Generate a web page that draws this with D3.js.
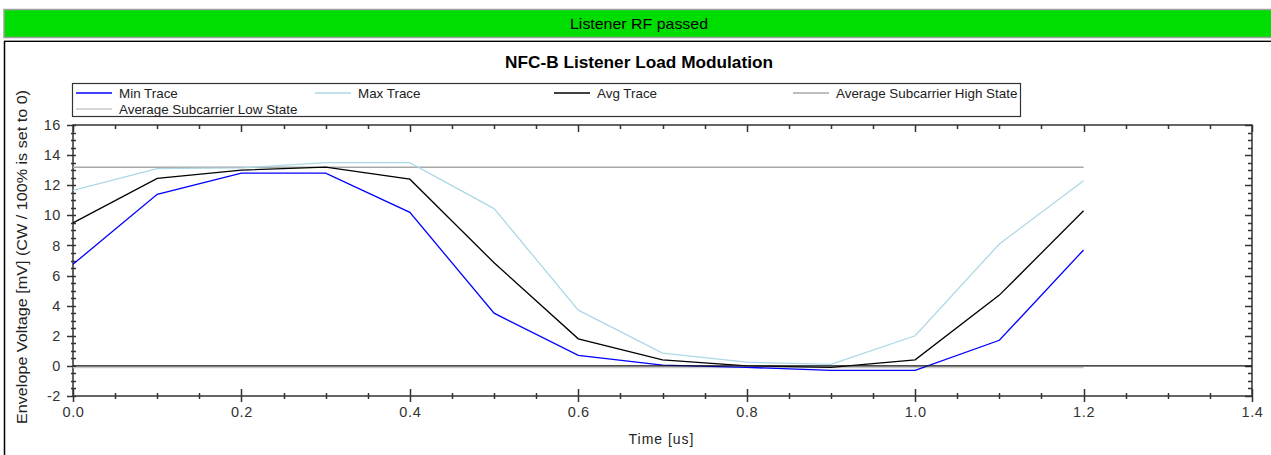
<!DOCTYPE html>
<html><head><meta charset="utf-8">
<script src="https://cdn.jsdelivr.net/npm/d3@7"></script>
<style>
html,body{margin:0;padding:0;background:#fff;}
svg{display:block;font-family:"Liberation Sans",Arial,sans-serif;}
</style></head>
<body>
<svg id="chart" width="1271" height="455"></svg>
<script>
// ---- data ----
const bannerText = "Listener RF passed";
const chartTitle = "NFC-B Listener Load Modulation";
const xTitle = "Time [us]";
const yTitle = "Envelope Voltage [mV] (CW / 100% is set to 0)";
const times    = [0.0, 0.1, 0.2, 0.3, 0.4, 0.5, 0.6, 0.7, 0.8, 0.9, 1.0, 1.1, 1.2];
const minTrace = [6.75, 11.4, 12.8, 12.8, 10.2, 3.5, 0.7, 0.05, -0.1, -0.3, -0.3, 1.7, 7.7];
const maxTrace = [11.65, 13.1, 13.15, 13.5, 13.5, 10.45, 3.7, 0.85, 0.25, 0.1, 2.0, 8.1, 12.3];
const avgTrace = [9.5, 12.45, 13.0, 13.2, 12.4, 6.85, 1.8, 0.4, 0.0, -0.1, 0.4, 4.7, 10.3];
const stateTimes = [0.0, 1.2];
const highState = [13.2, 13.2];
const lowState  = [-0.1, -0.1];
const xTicks = [0.0, 0.2, 0.4, 0.6, 0.8, 1.0, 1.2, 1.4];
const yTicks = [-2, 0, 2, 4, 6, 8, 10, 12, 14, 16];
const legendNames = ["Min Trace", "Max Trace", "Avg Trace", "Average Subcarrier High State", "Average Subcarrier Low State"];
const legendColors = ["#0000ff", "#add8e6", "#000000", "#a8a8a8", "#c8c8c8"];

// ---- layout ----
const svg = d3.select("#chart");
const L = 73, R = 1252, T = 125, B = 396;
const x = d3.scaleLinear().domain([0, 1.4]).range([L, R]);
const y = d3.scaleLinear().domain([-2, 16]).range([B, T]);

// banner
svg.append("rect").attr("x", 4).attr("y", 9.5).attr("width", 1270).attr("height", 28)
  .attr("fill", "#00dd00").attr("stroke", "#a0a0a0").attr("stroke-width", 1.5);
svg.append("text").attr("x", 639).attr("y", 29).attr("text-anchor", "middle")
  .attr("font-size", 14.5).attr("fill", "#000").attr("textLength", 138).attr("lengthAdjust", "spacingAndGlyphs").text(bannerText);

// panel border
svg.append("line").attr("x1", 4).attr("x2", 1271).attr("y1", 40.5).attr("y2", 40.5).attr("stroke", "#a0a0a0");
svg.append("line").attr("x1", 4).attr("x2", 1271).attr("y1", 41.5).attr("y2", 41.5).attr("stroke", "#000");
svg.append("line").attr("x1", 4.5).attr("x2", 4.5).attr("y1", 41).attr("y2", 455).attr("stroke", "#000").attr("stroke-width", 1.5);

// title
svg.append("text").attr("x", 639).attr("y", 68).attr("text-anchor", "middle")
  .attr("font-size", 16.5).attr("font-weight", "bold").attr("fill", "#000")
  .attr("textLength", 268).attr("lengthAdjust", "spacingAndGlyphs").text(chartTitle);

// legend
const lg = svg.append("g");
lg.append("rect").attr("x", 72.5).attr("y", 83.5).attr("width", 948).attr("height", 33)
  .attr("fill", "#fff").attr("stroke", "#333").attr("stroke-width", 1.2);
legendNames.forEach((n, i) => {
  const col = i % 4, row = Math.floor(i / 4);
  const lx = 76 + col * 239, ly = 93 + row * 16;
  lg.append("line").attr("x1", lx).attr("x2", lx + 36).attr("y1", ly).attr("y2", ly)
    .attr("stroke", legendColors[i]).attr("stroke-width", 1.5);
  lg.append("text").attr("x", lx + 43).attr("y", ly + 4.5).attr("font-size", 13.4).attr("fill", "#222").text(n);
});

// frame
const ax = "#333";
svg.append("rect").attr("x", L).attr("y", T).attr("width", R - L).attr("height", B - T)
  .attr("fill", "none").attr("stroke", ax).attr("stroke-width", 1.5);

// x ticks
const xMinor = d3.range(0, 1.4001, 0.05);
xMinor.forEach(v => {
  const major = xTicks.some(t => Math.abs(t - v) < 1e-6);
  const px = Math.round(x(v)) + 0.5;
  svg.append("line").attr("x1", px).attr("x2", px).attr("y1", B - (major ? 7 : 3)).attr("y2", B + (major ? 6 : 3))
    .attr("stroke", ax).attr("stroke-width", 1.5);
  svg.append("line").attr("x1", px).attr("x2", px).attr("y1", T).attr("y2", T + (major ? 7 : 4))
    .attr("stroke", ax).attr("stroke-width", 1.5);
});
// y ticks
const yMinor = d3.range(-2, 16.001, 0.5);
yMinor.forEach(v => {
  const major = yTicks.some(t => Math.abs(t - v) < 1e-6);
  const py = Math.round(y(v)) + 0.5;
  svg.append("line").attr("x1", L - (major ? 6 : 2)).attr("x2", L + 3).attr("y1", py).attr("y2", py)
    .attr("stroke", ax).attr("stroke-width", 1.5);
  svg.append("line").attr("x1", R - (major ? 7 : 4)).attr("x2", R).attr("y1", py).attr("y2", py)
    .attr("stroke", ax).attr("stroke-width", 1.5);
});

// tick labels via axes
const xAxis = d3.axisBottom(x).tickValues(xTicks).tickFormat(d => d.toFixed(1)).tickSize(0).tickPadding(0);
const gx = svg.append("g").attr("transform", `translate(0,${B + 11})`).call(xAxis);
gx.select(".domain").remove();
gx.selectAll("text").attr("font-size", 14.5).attr("fill", "#333").attr("letter-spacing", 0.6)
  .attr("font-family", "Liberation Sans, Arial, sans-serif").attr("dy", "0.71em");

const yAxis = d3.axisLeft(y).tickValues(yTicks).tickFormat(d => String(d)).tickSize(0).tickPadding(0);
const gy = svg.append("g").attr("transform", `translate(${L - 12},0)`).call(yAxis);
gy.select(".domain").remove();
gy.selectAll("text").attr("font-size", 14.5).attr("fill", "#333").attr("letter-spacing", 0.6)
  .attr("font-family", "Liberation Sans, Arial, sans-serif");

// axis titles
svg.append("text").attr("x", 661).attr("y", 444).attr("text-anchor", "middle").attr("font-size", 14)
  .attr("fill", "#222").attr("textLength", 65).attr("lengthAdjust", "spacing").text(xTitle);
svg.append("text").attr("transform", "translate(27,257) rotate(-90)").attr("text-anchor", "middle")
  .attr("font-size", 14).attr("fill", "#222").attr("textLength", 334).attr("lengthAdjust", "spacingAndGlyphs").text(yTitle);

// series
const line = d3.line().x(d => x(d[0])).y(d => y(d[1]));
const plot = svg.append("g");
function draw(ts, vs, color, w) {
  plot.append("path").datum(ts.map((t, i) => [t, vs[i]])).attr("d", line)
    .attr("fill", "none").attr("stroke", color).attr("stroke-width", w);
}
draw(stateTimes, lowState, legendColors[4], 1.5);
draw(stateTimes, highState, legendColors[3], 1.5);
draw(times, maxTrace, legendColors[1], 1.3);
draw(times, minTrace, legendColors[0], 1.3);
draw(times, avgTrace, legendColors[2], 1.3);
// zero line
plot.append("line").attr("x1", x(0)).attr("x2", x(1.4)).attr("y1", y(0)).attr("y2", y(0))
  .attr("stroke", "#111").attr("stroke-width", 1.3);
</script>
</body></html>
